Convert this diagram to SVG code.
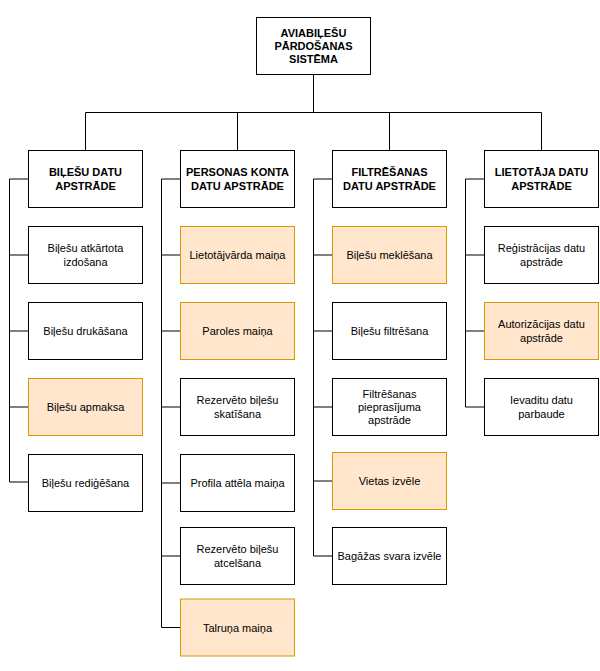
<svg xmlns="http://www.w3.org/2000/svg" width="600" height="671" viewBox="0 0 600 671">
<style>
rect.n{fill:#ffffff;stroke:#000000;stroke-width:1}
rect.o{fill:#ffe6cc;stroke:#d79b00;stroke-width:1}
text{font-family:"Liberation Sans",Arial,Helvetica,sans-serif;font-size:11px;fill:#000000;text-anchor:middle}
text.b{font-weight:bold}
.c path{fill:none;stroke:#000000;stroke-width:1}
</style>
<rect width="600" height="671" fill="#ffffff"/>
<g class="c" id="connectors">
<path d="M313.5 74.5V112.5M85.5 112.5H541.5M85.5 112.5V150.5M237.5 112.5V150.5M389.5 112.5V150.5M541.5 112.5V150.5"/>
<path d="M28.5 179H9.5V482H28.5M9.5 255H28.5M9.5 331H28.5M9.5 407H28.5"/>
<path d="M180.5 179H161.5V627.5H180.5M161.5 255H180.5M161.5 331H180.5M161.5 407H180.5M161.5 483H180.5M161.5 556H180.5"/>
<path d="M332.5 179H313.5V556H332.5M313.5 255H332.5M313.5 331H332.5M313.5 407H332.5M313.5 481H332.5"/>
<path d="M484.5 179H465.5V407H484.5M465.5 255H484.5M465.5 331H484.5"/>
</g>
<g id="root"><rect class="n" x="256.5" y="17.5" width="114" height="57"/>
<text class="b" x="313.5" y="36.6">AVIABIĻEŠU</text><text class="b" x="313.5" y="50">PĀRDOŠANAS</text><text class="b" x="313.5" y="63.4">SISTĒMA</text></g>
<g id="l1a"><rect class="n" x="28.5" y="150.5" width="114" height="57"/><text class="b" x="85.5" y="176.3">BIĻEŠU DATU</text><text class="b" x="85.5" y="189.7">APSTRĀDE</text></g>
<g id="l1b"><rect class="n" x="180.5" y="150.5" width="114" height="57"/><text class="b" x="237.5" y="176.3">PERSONAS KONTA</text><text class="b" x="237.5" y="189.7">DATU APSTRĀDE</text></g>
<g id="l1c"><rect class="n" x="332.5" y="150.5" width="114" height="57"/><text class="b" x="389.5" y="176.3">FILTRĒŠANAS</text><text class="b" x="389.5" y="189.7">DATU APSTRĀDE</text></g>
<g id="l1d"><rect class="n" x="484.5" y="150.5" width="114" height="57"/><text class="b" x="541.5" y="176.3">LIETOTĀJA DATU</text><text class="b" x="541.5" y="189.7">APSTRĀDE</text></g>

<g id="a1"><rect class="n" x="28.5" y="226.5" width="114" height="57"/><text x="85.5" y="252.3">Biļešu atkārtota</text><text x="85.5" y="265.7">izdošana</text></g>
<g id="a2"><rect class="n" x="28.5" y="302.5" width="114" height="57"/><text x="85.5" y="335">Biļešu drukāšana</text></g>
<g id="a3"><rect class="o" x="28.5" y="378.5" width="114" height="57"/><text x="85.5" y="411">Biļešu apmaksa</text></g>
<g id="a4"><rect class="n" x="28.5" y="454.5" width="114" height="57"/><text x="85.5" y="487">Biļešu rediģēšana</text></g>

<g id="b1"><rect class="o" x="180.5" y="226.5" width="114" height="57"/><text x="237.5" y="259">Lietotājvārda maiņa</text></g>
<g id="b2"><rect class="o" x="180.5" y="302.5" width="114" height="57"/><text x="237.5" y="335">Paroles maiņa</text></g>
<g id="b3"><rect class="n" x="180.5" y="378.5" width="114" height="57"/><text x="237.5" y="404.3">Rezervēto biļešu</text><text x="237.5" y="417.7">skatīšana</text></g>
<g id="b4"><rect class="n" x="180.5" y="454.5" width="114" height="57"/><text x="237.5" y="487">Profila attēla maiņa</text></g>
<g id="b5"><rect class="n" x="180.5" y="527.5" width="114" height="57"/><text x="237.5" y="553.3">Rezervēto biļešu</text><text x="237.5" y="566.7">atcelšana</text></g>
<g id="b6"><rect class="o" x="180.5" y="599" width="114" height="57"/><text x="237.5" y="631.5">Talruņa maiņa</text></g>

<g id="c1"><rect class="o" x="332.5" y="226.5" width="114" height="57"/><text x="389.5" y="259">Biļešu meklēšana</text></g>
<g id="c2"><rect class="n" x="332.5" y="302.5" width="114" height="57"/><text x="389.5" y="335">Biļešu filtrēšana</text></g>
<g id="c3"><rect class="n" x="332.5" y="378.5" width="114" height="57"/><text x="389.5" y="397.6">Filtrēšanas</text><text x="389.5" y="411">pieprasījuma</text><text x="389.5" y="424.4">apstrāde</text></g>
<g id="c4"><rect class="o" x="332.5" y="452.5" width="114" height="57"/><text x="389.5" y="485">Vietas izvēle</text></g>
<g id="c5"><rect class="n" x="332.5" y="527.5" width="114" height="57"/><text x="389.5" y="560">Bagāžas svara izvēle</text></g>

<g id="d1"><rect class="n" x="484.5" y="226.5" width="114" height="57"/><text x="541.5" y="252.3">Reģistrācijas datu</text><text x="541.5" y="265.7">apstrāde</text></g>
<g id="d2"><rect class="o" x="484.5" y="302.5" width="114" height="57"/><text x="541.5" y="328.3">Autorizācijas datu</text><text x="541.5" y="341.7">apstrāde</text></g>
<g id="d3"><rect class="n" x="484.5" y="378.5" width="114" height="57"/><text x="541.5" y="404.3">Ievaditu datu</text><text x="541.5" y="417.7">parbaude</text></g>
</svg>
